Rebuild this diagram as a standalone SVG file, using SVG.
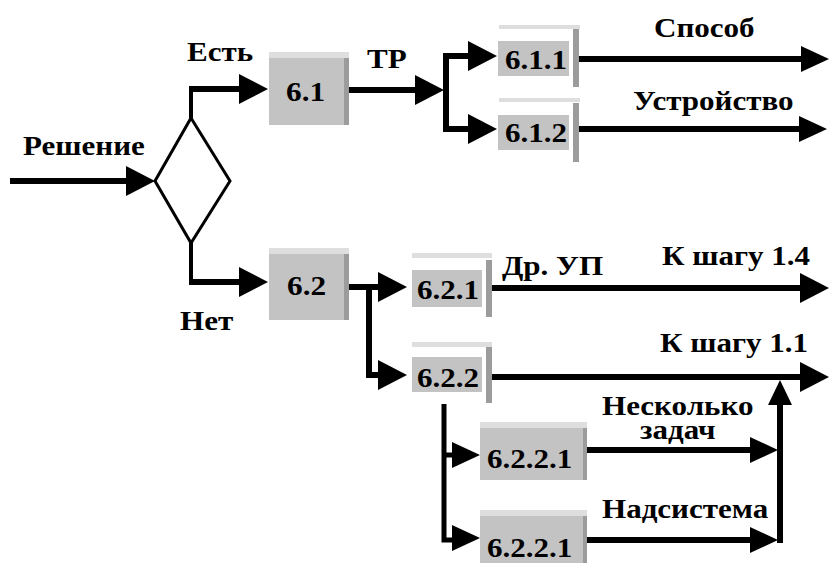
<svg xmlns="http://www.w3.org/2000/svg" xmlns:xlink="http://www.w3.org/1999/xlink" width="829" height="563" viewBox="0 0 829 563" font-family="'Liberation Serif', serif">
  <style>
    .t { font-weight: bold; font-size: 27px; fill: #000; }
    .line { fill: none; stroke: #000; stroke-width: 6; stroke-linejoin: miter; }
    .stem { fill: none; stroke: #000; stroke-width: 4; }
    .diamond { fill: #fff; stroke: #000; stroke-width: 3; }
    .head { fill: #000; }
    .top { fill: #dedede; }
    .body { fill: #c3c3c3; }
    .edge { fill: #9c9c9c; }
  </style>
  <defs>
    <!-- filled arrowhead pointing right, tip at the origin -->
    <path id="ah" d="M-29,-15 L0,0 L-29,15 Z"/>
    <path id="ahs" d="M-28,-13 L0,0 L-28,13 Z"/>
  </defs>

  <!-- decision diamond -->
  <g id="decision">
    <polygon class="diamond" points="191,118 230,181 191,243 155,181"/>
  </g>

  <!-- process blocks (labels are set in a slightly widened bold serif) -->
  <g id="n6_1">
    <rect class="top" x="269" y="52" width="80" height="6"/>
    <rect class="body" x="269" y="58" width="75" height="67"/>
    <rect class="edge" x="344" y="58" width="5" height="67"/>
    <text class="t" font-family="'Liberation Serif', serif" transform="matrix(1.16 0 0 1 286 101)">6.1</text>
  </g>
  <g id="n6_1_1">
    <rect class="top" x="499" y="25" width="81" height="4"/>
    <rect class="body" x="498" y="41" width="71" height="35"/>
    <rect class="edge" x="573" y="29" width="6" height="58"/>
    <text class="t" font-family="'Liberation Serif', serif" transform="matrix(1.15 0 0 1 505 69)">6.1.1</text>
  </g>
  <g id="n6_1_2">
    <rect class="top" x="499" y="98" width="81" height="4"/>
    <rect class="body" x="498" y="115" width="71" height="35"/>
    <rect class="edge" x="573" y="103" width="6" height="59"/>
    <text class="t" font-family="'Liberation Serif', serif" transform="matrix(1.15 0 0 1 505 142)">6.1.2</text>
  </g>
  <g id="n6_2">
    <rect class="top" x="269" y="248" width="80" height="6"/>
    <rect class="body" x="269" y="254" width="75" height="66"/>
    <rect class="edge" x="344" y="254" width="5" height="66"/>
    <text class="t" font-family="'Liberation Serif', serif" transform="matrix(1.16 0 0 1 287 295)">6.2</text>
  </g>
  <g id="n6_2_1">
    <rect class="top" x="412" y="253" width="80" height="5"/>
    <rect class="body" x="412" y="270" width="70" height="37"/>
    <rect class="edge" x="486" y="260" width="6" height="57"/>
    <text class="t" font-family="'Liberation Serif', serif" transform="matrix(1.15 0 0 1 417 299)">6.2.1</text>
  </g>
  <g id="n6_2_2">
    <rect class="top" x="412" y="342" width="80" height="5"/>
    <rect class="body" x="412" y="357" width="70" height="35"/>
    <rect class="edge" x="486" y="347" width="6" height="56"/>
    <text class="t" font-family="'Liberation Serif', serif" transform="matrix(1.15 0 0 1 417 387)">6.2.2</text>
  </g>
  <g id="n6_2_2_1a">
    <rect class="top" x="480" y="422" width="107" height="6"/>
    <rect class="body" x="480" y="428" width="103" height="52"/>
    <rect class="edge" x="583" y="428" width="4" height="52"/>
    <text class="t" font-family="'Liberation Serif', serif" transform="matrix(1.15 0 0 1 487 468)">6.2.2.1</text>
  </g>
  <g id="n6_2_2_1b">
    <rect class="top" x="480" y="510" width="107" height="6"/>
    <rect class="body" x="480" y="516" width="103" height="47"/>
    <rect class="edge" x="583" y="516" width="4" height="47"/>
    <text class="t" font-family="'Liberation Serif', serif" transform="matrix(1.15 0 0 1 487 557)">6.2.2.1</text>
  </g>

  <!-- connectors -->
  <g id="connectors">
    <path class="line" d="M10,181 H130"/>
    <use xlink:href="#ah" href="#ah" class="head" x="155" y="181"/>

    <path class="stem" d="M191,118 V89"/>
    <path class="line" d="M189,89 H241"/>
    <use xlink:href="#ah" href="#ah" class="head" x="268" y="89"/>

    <path class="stem" d="M191,243 V282"/>
    <path class="line" d="M189,282 H241"/>
    <use xlink:href="#ah" href="#ah" class="head" x="268" y="282"/>

    <path class="line" d="M349,90 H418"/>
    <use xlink:href="#ah" href="#ah" class="head" x="444" y="90"/>
    <path class="line" d="M471,56 H446 V129 H471"/>
    <use xlink:href="#ah" href="#ah" class="head" x="497" y="56"/>
    <use xlink:href="#ah" href="#ah" class="head" x="497" y="129"/>

    <path class="line" d="M579,59 H803"/>
    <use xlink:href="#ahs" href="#ahs" class="head" x="829" y="59"/>
    <path class="line" d="M579,129 H801"/>
    <use xlink:href="#ahs" href="#ahs" class="head" x="827" y="129"/>

    <path class="line" d="M349,287 H381"/>
    <path class="line" d="M369,287 V375 H381"/>
    <use xlink:href="#ah" href="#ah" class="head" x="407" y="287"/>
    <use xlink:href="#ah" href="#ah" class="head" x="407" y="375"/>

    <path class="line" d="M492,288 H803"/>
    <use xlink:href="#ah" href="#ah" class="head" x="829" y="288"/>
    <path class="line" d="M492,377 H803"/>
    <use xlink:href="#ah" href="#ah" class="head" x="829" y="377"/>

    <path class="stem" style="stroke-width:5" d="M444,404 V540 H455"/>
    <path class="stem" style="stroke-width:5" d="M444,455 H455"/>
    <use xlink:href="#ahs" href="#ahs" class="head" x="480" y="455"/>
    <use xlink:href="#ahs" href="#ahs" class="head" x="480" y="538"/>

    <path class="line" d="M587,450 H752"/>
    <use xlink:href="#ahs" href="#ahs" class="head" x="778" y="450"/>
    <path class="line" d="M587,540 H752"/>
    <use xlink:href="#ahs" href="#ahs" class="head" x="778" y="540"/>
    <path class="line" d="M780,543 V402"/>
    <path class="head" d="M768,405 L780,380 L792,405 Z"/>
  </g>

  <!-- connector labels -->
  <g id="labels" font-family="'Liberation Serif', serif">
    <text class="t" transform="matrix(1.15 0 0 1 23 155)">Решение</text>
    <text class="t" transform="matrix(1.15 0 0 1 187 61)">Есть</text>
    <text class="t" transform="matrix(1.15 0 0 1 180 330)">Нет</text>
    <text class="t" transform="matrix(1.15 0 0 1 367 68)">ТР</text>
    <text class="t" transform="matrix(1.15 0 0 1 654 37)">Способ</text>
    <text class="t" transform="matrix(1.15 0 0 1 633 110)">Устройство</text>
    <text class="t" transform="matrix(1.15 0 0 1 502 275)">Др. УП</text>
    <text class="t" transform="matrix(1.15 0 0 1 662 265)">К шагу 1.4</text>
    <text class="t" transform="matrix(1.15 0 0 1 660 352)">К шагу 1.1</text>
    <text class="t" transform="matrix(1.15 0 0 1 602 415)">Несколько</text>
    <text class="t" transform="matrix(1.15 0 0 1 640 439)">задач</text>
    <text class="t" transform="matrix(1.15 0 0 1 602 518)">Надсистема</text>
  </g>
</svg>
